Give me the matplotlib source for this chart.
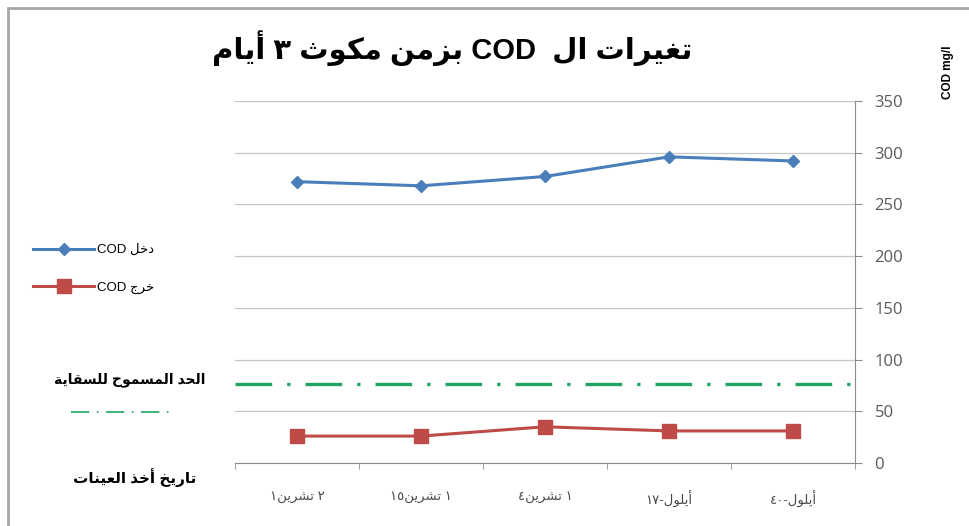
import re
import matplotlib
matplotlib.use("Agg")
import matplotlib.pyplot as plt
from matplotlib.lines import Line2D
from matplotlib.patches import Rectangle

# sampling dates (chronological), COD in / out and irrigation limit
dates = ["٤٠-أيلول", "١٧-أيلول", "٤تشرين ١", "١٥تشرين ١", "١تشرين ٢"]
cod_in = [292, 296, 277, 268, 272]
cod_out = [31, 31, 35, 26, 26]
limit = 76

title = "تغيرات ال  COD بزمن مكوث ٣ أيام"
in_label = "COD دخل"
out_label = "COD خرج"
limit_label = "الحد المسموح للسقاية"
xlabel = "تاريخ أخذ العينات"

# --- minimal arabic shaping (matplotlib has no bidi / joining) ---
_letters = "ءآأؤإئابةتثجحخدذرزسشصضطظعغفقكلمنهوىي"
_nforms = [1, 2, 2, 2, 2, 4, 2, 4, 2, 4, 4, 4, 4, 4, 2, 2, 2, 2, 4, 4, 4, 4,
           4, 4, 4, 4, 4, 4, 4, 4, 4, 4, 4, 2, 2, 4]
FORMS = {}
code = 0xFE80
for ch, n in zip(_letters, _nforms):
    FORMS[ch] = [chr(code + k) for k in range(n)]
    code += n


def shape(text):
    out = []
    for i, ch in enumerate(text):
        if ch not in FORMS:
            out.append(ch)
            continue
        prev = text[i - 1] if i > 0 else ""
        nxt = text[i + 1] if i + 1 < len(text) else ""
        jp = prev in FORMS and len(FORMS[prev]) == 4
        jn = len(FORMS[ch]) == 4 and nxt in FORMS
        f = FORMS[ch]
        idx = {(False, False): 0, (True, False): 1, (False, True): 2, (True, True): 3}[(jp, jn)]
        out.append(f[min(idx, len(f) - 1)] if len(f) > 1 else f[0])
    return "".join(out)


AR = "[\uFE70-\uFEFF]+"


def ar(text, rtl=False):
    s = shape(text)
    if rtl:
        return re.sub(r"[A-Za-z0-9\u0660-\u0669/]+", lambda m: m.group()[::-1], s[::-1])
    return re.sub(AR + "(?: +" + AR + ")*", lambda m: m.group()[::-1], s)


FAM = ["Liberation Sans", "DejaVu Sans"]
plt.rcParams["font.family"] = FAM

fig = plt.figure(figsize=(9.69, 5.26), dpi=100)
ax = fig.add_axes([0.2425, 0.1198, 0.6399, 0.6882])

x = range(len(dates))
l_in, = ax.plot(x, cod_in, color="#4A7EBB", lw=2.2, marker="D", ms=6,
                label=ar(in_label))
l_out, = ax.plot(x, cod_out, color="#BE4B48", lw=2.2, marker="s", ms=10,
                 label=ar(out_label))
l_lim = ax.axhline(limit, color="#1FA463", lw=2.4, dashes=(11, 4.5, 1, 4.5))

ax.set_xlim(len(dates) - 0.5, -0.5)
ax.set_ylim(0, 350)
ax.set_yticks(range(0, 351, 50))
ax.yaxis.tick_right()
ax.grid(axis="y", color="#c6c6c6", lw=0.9)
ax.set_axisbelow(True)
for s in ["top", "left"]:
    ax.spines[s].set_visible(False)
ax.spines["right"].set_color("#8c8c8c")
ax.spines["bottom"].set_color("#8c8c8c")
ax.tick_params(axis="y", colors="#8c8c8c", length=5, labelcolor="#595959",
               labelsize=12, pad=9)
for t in ax.get_yticklabels():
    t.set_family(["Open Sans", "DejaVu Sans"])

ax.set_xticks(list(x))
ax.set_xticklabels([ar(d) for d in dates], fontsize=9.5, color="#4a4a4a")
ax.tick_params(axis="x", length=0, pad=20)
ax.set_xticks([i - 0.5 for i in range(len(dates) + 1)], minor=True)
ax.tick_params(axis="x", which="minor", length=4, color="#8c8c8c")

fig.text(0.4665, 0.909, ar(title, rtl=True), ha="center", va="center",
         fontsize=21, fontweight="bold")
fig.text(0.978, 0.862, "COD mg/l", rotation=90, ha="center", va="center",
         fontsize=8.5, fontweight="bold")

leg = fig.legend(handles=[l_in, l_out], loc="center left",
                 bbox_to_anchor=(0.022, 0.489), frameon=False, fontsize=9.5,
                 handlelength=4.6, handletextpad=0.2, labelspacing=1.9,
                 numpoints=1)

fig.text(0.134, 0.2776, ar(limit_label), ha="center", va="center",
         fontsize=10, fontweight="bold")
fig.legend(handles=[Line2D([], [], color="#1FA463", lw=1.2, dashes=(11, 4.5, 1, 4.5))],
           labels=[""], loc="center left", bbox_to_anchor=(0.06, 0.2148),
           frameon=False, handlelength=7.5, handletextpad=0)
fig.text(0.139, 0.0913, ar(xlabel), ha="center", va="center",
         fontsize=11, fontweight="bold")

fig.add_artist(Rectangle((0.0083, -0.2), 1.2, 1.185, transform=fig.transFigure,
                         fill=False, edgecolor="#a6a6a6", lw=2))

fig.savefig("out.png", dpi=100)
